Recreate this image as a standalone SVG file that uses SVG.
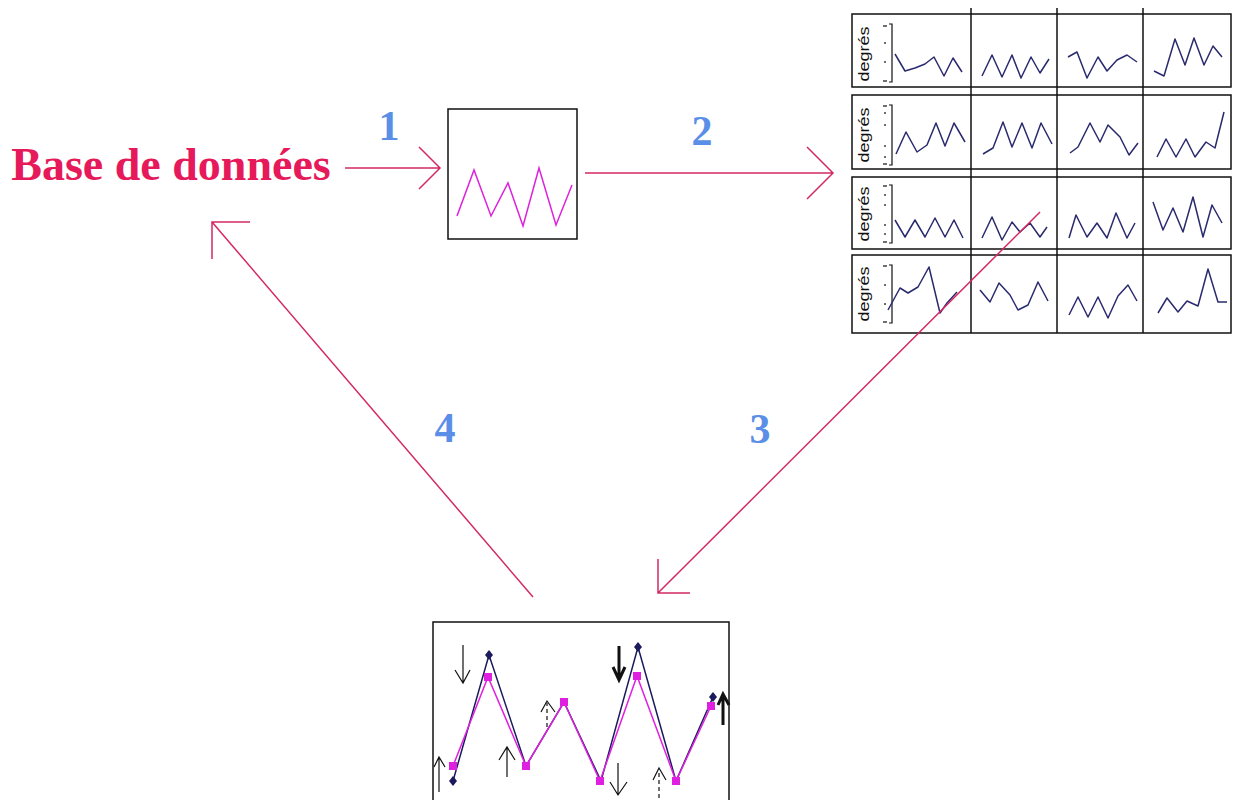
<svg xmlns="http://www.w3.org/2000/svg" width="1233" height="800" viewBox="0 0 1233 800">
<style>
.conn{stroke:#d42a64;stroke-width:1.5;fill:none}
.lbl{font-family:"Liberation Serif",serif;font-weight:bold;font-size:42px;fill:#5b8ee6;text-anchor:middle}
.box{fill:#fff;stroke:#111;stroke-width:1.5}
.gl{stroke:#111;stroke-width:1.5;fill:none}
.sp{stroke:#2a2a6e;stroke-width:1.5;fill:none;stroke-linejoin:round}
.deg{font-family:"Liberation Sans",Arial,sans-serif;font-size:15px;fill:#111;text-anchor:middle}
.ax{stroke:#111;stroke-width:1.2;fill:none}
.nv{stroke:#1a1a5c;stroke-width:1.5;fill:none}
.pk{stroke:#e020e0;stroke-width:1.5;fill:none}
.ann{stroke:#111;stroke-width:1.2;fill:none}
.annb{stroke:#111;stroke-width:3;fill:none}
.dash{stroke:#111;stroke-width:1.2;fill:none;stroke-dasharray:4 3}
</style>
<defs>
<rect id="sq" x="-4" y="-4" width="8" height="8" fill="#e020e0"/>
<path id="dm" d="M0,-5 L4,0 L0,5 L-4,0 Z" fill="#1a1a5c"/>
</defs>
<rect width="1233" height="800" fill="#fff"/>

<g id="db">
<text x="171" y="180" font-family="Liberation Serif,serif" font-weight="bold" font-size="46" fill="#e6195a" text-anchor="middle">Base de données</text>
</g>

<g id="box1">
<rect class="box" x="448" y="109" width="129" height="130"/>
<polyline points="457,216 474,170 491,216 508,183 523,226 539,168 556,225 572,185" fill="none" stroke="#dd22dd" stroke-width="1.5"/>
</g>

<g id="grid">
<rect class="gl" x="852" y="14" width="379" height="73" fill="#fff"/>
<rect class="gl" x="852" y="95" width="379" height="74" fill="#fff"/>
<rect class="gl" x="852" y="177" width="379" height="72" fill="#fff"/>
<rect class="gl" x="852" y="255" width="379" height="78" fill="#fff"/>
<path class="gl" d="M971,8 V333 M1057,8 V333 M1143,8 V333"/>
<text class="deg" transform="translate(869,54) rotate(-90)" textLength="55" lengthAdjust="spacingAndGlyphs">degrés</text>
<text class="deg" transform="translate(869,135) rotate(-90)" textLength="55" lengthAdjust="spacingAndGlyphs">degrés</text>
<text class="deg" transform="translate(869,214) rotate(-90)" textLength="55" lengthAdjust="spacingAndGlyphs">degrés</text>
<text class="deg" transform="translate(869,294) rotate(-90)" textLength="55" lengthAdjust="spacingAndGlyphs">degrés</text>
<path class="ax" d="M889,24 H892 V82 H889 M884,25 v2 M886,25 v2 M885,42 v2 M885,61 v2 M884,80 v2 M886,80 v2"/>
<path class="ax" d="M889,105 H892 V165 H889 M884,105 v2 M886,105 v2 M885,112 v2 M885,124 v2 M885,145 v2 M885,156 v2 M884,163 v2 M886,163 v2"/>
<path class="ax" d="M889,185 H892 V243 H889 M884,185 v2 M886,185 v2 M885,194 v2 M885,204 v2 M885,224 v2 M885,233 v2 M884,241 v2 M886,241 v2"/>
<path class="ax" d="M889,265 H892 V323 H889 M884,265 v2 M886,265 v2 M885,284 v2 M885,303 v2 M884,321 v2 M886,321 v2"/>
<polyline class="sp" points="895,54 905,71 915,68 925,64 934,57 944,76 953,58 962,72"/>
<polyline class="sp" points="982,76 992,55 1002,77 1012,55 1021,78 1031,57 1040,73 1049,59"/>
<polyline class="sp" points="1068,57 1077,52 1087,78 1098,57 1107,71 1117,60 1127,55 1137,62"/>
<polyline class="sp" points="1154,71 1164,76 1175,39 1185,65 1194,38 1204,65 1213,46 1222,57"/>
<polyline class="sp" points="896,154 906,132 917,152 927,145 936,123 945,146 954,123 965,142"/>
<polyline class="sp" points="983,154 993,148 1003,122 1012,147 1022,123 1032,148 1041,123 1052,144"/>
<polyline class="sp" points="1070,153 1078,147 1090,123 1100,142 1108,125 1120,137 1129,155 1138,143"/>
<polyline class="sp" points="1157,157 1166,139 1176,157 1186,139 1195,157 1206,142 1215,148 1224,112"/>
<polyline class="sp" points="895,220 905,237 915,220 925,237 935,218 945,237 954,220 963,238"/>
<polyline class="sp" points="982,238 992,217 1002,240 1012,222 1020,232 1030,223 1040,237 1047,227"/>
<polyline class="sp" points="1069,238 1076,215 1087,237 1097,223 1107,238 1116,213 1127,238 1135,223"/>
<polyline class="sp" points="1153,202 1163,230 1173,208 1183,232 1193,197 1203,237 1212,205 1222,223"/>
<polyline class="sp" points="888,310 900,288 908,293 918,287 929,267 940,313 947,303 957,292"/>
<polyline class="sp" points="980,290 990,302 999,283 1010,295 1018,310 1028,305 1038,282 1048,301"/>
<polyline class="sp" points="1069,315 1078,297 1088,317 1098,297 1108,318 1118,296 1128,285 1137,301"/>
<polyline class="sp" points="1158,313 1167,298 1178,312 1187,301 1198,306 1208,269 1218,302 1227,302"/>
</g>

<g id="chart">
<rect class="box" x="433" y="622" width="296" height="190"/>
<polyline class="nv" points="453,781 489,655 526,766 564,702 601,781 638,647 676,781 713,697"/>
<polyline class="pk" points="453,766 488,677 526,766 564,702 600,781 637,676 676,781 711,706"/>
<use href="#sq" x="453" y="766"/><use href="#sq" x="488" y="677"/><use href="#sq" x="526" y="766"/><use href="#sq" x="564" y="702"/>
<use href="#sq" x="600" y="781"/><use href="#sq" x="637" y="676"/><use href="#sq" x="676" y="781"/><use href="#sq" x="711" y="706"/>
<use href="#dm" x="453" y="781"/><use href="#dm" x="489" y="655"/><use href="#dm" x="638" y="647"/><use href="#dm" x="713" y="697"/>
<path class="ann" d="M463,645 V683 M455,670 L463,683 L470,670"/>
<path class="ann" d="M439,792 V757 M434,767 L439,757 L445,767"/>
<path class="ann" d="M507,777 V747 M499,760 L507,747 L515,760"/>
<path class="dash" d="M547,727 V703"/><path class="ann" d="M541,712 L547,701 L555,712"/>
<path class="annb" d="M619,646 V679 M613,667 L619,680 L625,667"/>
<path class="ann" d="M618,763 V795 M610,782 L618,795 L627,782"/>
<path class="dash" d="M659,798 V770"/><path class="ann" d="M653,780 L659,768 L666,780"/>
<path class="annb" d="M723,725 V695 M718,705 L723,694 L729,705"/>
</g>

<g id="connectors">
<path class="conn" d="M345,168 H440 M419,147 L440,168 L419,189"/>
<path class="conn" d="M585,173 H833 M807,147 L833,173 L807,199"/>
<path class="conn" d="M1040,212 L658,593 M658,559 V593 H690"/>
<path class="conn" d="M533,597 L212,222 M250,222 H212 V259"/>
<text class="lbl" x="389" y="140">1</text>
<text class="lbl" x="702" y="145">2</text>
<text class="lbl" x="760" y="443">3</text>
<text class="lbl" x="445" y="442">4</text>
</g>
</svg>
